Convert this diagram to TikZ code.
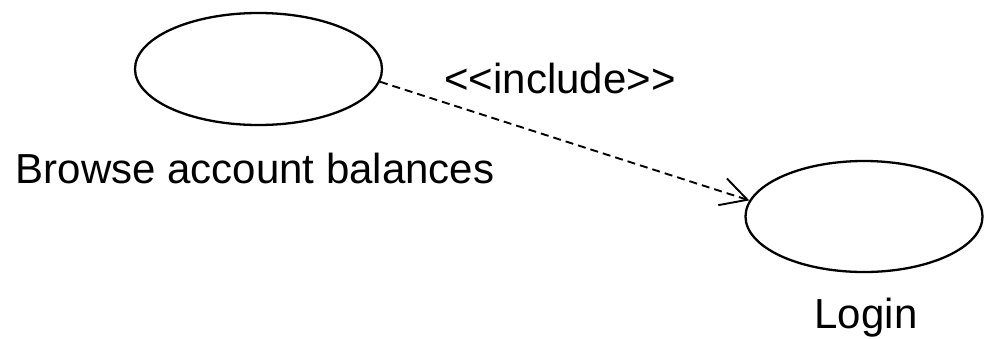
\documentclass[tikz,border=0pt]{standalone}
\usepackage{fontspec}
\setmainfont{Liberation Sans}[Ligatures=NoCommon]
\usetikzlibrary{shapes.geometric,arrows.meta}
\begin{document}
\begin{tikzpicture}[x=1pt,y=-1pt,
  usecase/.style={draw=black, line width=2.3pt, ellipse, inner sep=0pt},
  lbl/.style={font=\fontsize{42}{50}\selectfont, anchor=base, inner sep=0pt},
  incl/.style={draw=black, line width=1.9pt, dash pattern=on 8pt off 5pt,
     -{Straight Barb[length=26pt,width=28pt,line width=1.9pt]}}]
\useasboundingbox (0,0) rectangle (984,338);
\node[usecase, minimum width=247pt, minimum height=112pt] (a) at (258.5,69) {};
\node[usecase, minimum width=237pt, minimum height=111pt] (b) at (864,216.5) {};
\node[lbl] (la) at (255,183) {Browse account balances};
\node[lbl] (lb) at (866,328) {Login};
\node[lbl] (li) at (560,93) {\textless{}\textless{}include\textgreater{}\textgreater{}};
\draw[incl] (a.-6) -- (b.172);
\end{tikzpicture}
\end{document}
